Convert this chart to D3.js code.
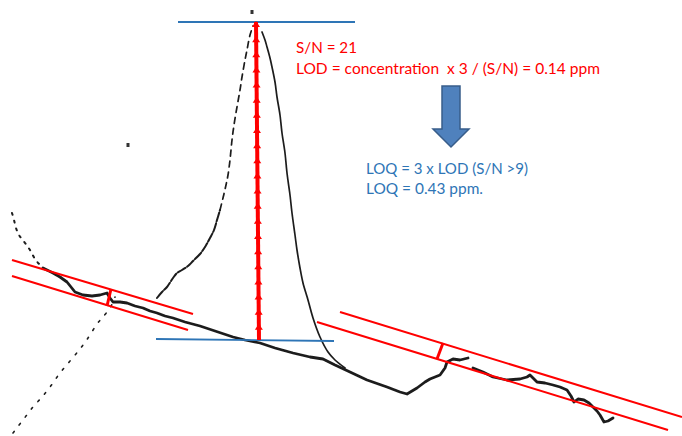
<!DOCTYPE html>
<html>
<head>
<meta charset="utf-8">
<script src="https://cdn.jsdelivr.net/npm/d3@7"></script>
<style>
  body { margin: 0; background: #fff; }
  svg { display: block; }
</style>
</head>
<body>
<script>
"use strict";

// detector trace, [scan, response]  (response counted up from the bottom)
const baselineA = [
  [43,168],[53,163],[60,159],[67,154],[75,144],[83,141],[92,140],[100,141],
  [107,143],[110,138],[113,134],[120,134],[127,133],[135,130],[143,128],
  [150,125],[157,123],[165,120],[173,118],[185,114],[200,110],[215,105],
  [233,99],[245,96],[260,93],[275,88],[293,83],[310,79],[323,77],[335,71],
  [350,64],[367,56],[387,49],[400,44],[407,42],[412,45],[417,48],[425,54],
  [430,57],[440,61],[445,68],[447,74],[453,77],[460,76],[468,78]
];
const baselineB = [
  [473,68],[483,64],[493,59],[507,56],[520,57],[527,59],[530,61],[533,58],
  [537,54],[545,53],[553,51],[560,49],[567,46],[571,40],[574,34],[578,37],
  [584,36],[589,33],[593,29],[597,25],[600,21],[604,14],[608,15],[613,18]
];
const peakRise = [
  [157,138],[162,144],[167,149],[173,158],[177,163],[182,166],[188,170],
  [193,175],[200,182],[205,189],[210,198],[214,206],[217,216],[220,226]
];
const peakRiseUpper = [
  [220,226],[223,238],[226,251],[228,261],[230,276],[232,296],[234,311],
  [237,329],[240,346],[242,359],[245,376],[247,386],[250,401],[253,410]
];
const peakFall = [
  [262,404],[265,396],[267,389],[270,378],[272,369],[275,354],[277,339],
  [280,321],[282,303],[285,283],[287,263],[290,241],[292,223],[295,201],
  [297,186],[300,168],[303,153],[308,136],[313,118],[320,99],[328,84],
  [335,76],[345,68]
];
const leadIn = [
  [12,223],[14,216],[16,208],[19,201],[25,193],[30,186],[35,177],[40,171],[43,168]
];
const crossTrace = [
  [13,3],[23,16],[33,29],[42,39],[50,49],[60,63],[70,75],[80,87],[88,98],
  [97,112],[102,118],[110,128],[115,139]
];
const specks = [[128,291],[252,424]];

// signal height: apex level, baseline level and the arrow between them
const apexLevel = [[178,414],[355,414]];
const baseLevel = [[156,97],[334,95]];
const signalSpan = [[259,96],[256,414]];

// noise bands and their widths
const noiseBands = [
  [[12,176],[193,122]], [[12,160],[188,106]],
  [[340,124],[682,19]], [[317,114],[668,6]]
];
const noiseWidths = [
  [[111,147],[107,130]],
  [[443,93],[437,77]]
];

// block arrow: shaft left/right, head left/right, top, neck, tip
const blockArrow = { shaft: [442,460], head: [433,469], top: 350, neck: 307, tip: 289 };

const lodLines = ["S/N = 21", "LOD = concentration  x 3 / (S/N) = 0.14 ppm"];
const loqLines = ["LOQ = 3 x LOD (S/N >9)", "LOQ = 0.43 ppm."];

const width = 682, height = 436;
const red = "#ff0000", blue = "#2e75b6", ink = "#1c1c1c";

const x = d3.scaleLinear().domain([0, 682]).range([0, width]);
const y = d3.scaleLinear().domain([0, 436]).range([height, 0]);
const line = d3.line().x(d => x(d[0])).y(d => y(d[1]));
const smooth = d3.line().x(d => x(d[0])).y(d => y(d[1])).curve(d3.curveCatmullRom);

const svg = d3.select("body").append("svg")
    .attr("width", width)
    .attr("height", height);

const defs = svg.append("defs");
defs.append("filter").attr("id", "soft")
    .append("feGaussianBlur").attr("stdDeviation", 0.5);

// trace
const trace = svg.append("g").attr("filter", "url(#soft)")
    .attr("fill", "none").attr("stroke", ink)
    .attr("stroke-linecap", "round").attr("stroke-linejoin", "round");

trace.append("path").datum(leadIn).attr("d", smooth)
    .attr("stroke-width", 2).attr("stroke-dasharray", "2,6");
trace.append("path").datum(crossTrace).attr("d", smooth)
    .attr("stroke-width", 1.6).attr("stroke-dasharray", "2,8");
trace.append("path").datum(baselineA).attr("d", line).attr("stroke-width", 2.8);
trace.append("path").datum(baselineB).attr("d", line).attr("stroke-width", 2.8);
trace.append("path").datum(peakRise).attr("d", smooth)
    .attr("stroke-width", 2).attr("stroke-dasharray", "9,2");
trace.append("path").datum(peakRiseUpper).attr("d", smooth)
    .attr("stroke-width", 1.7).attr("stroke-dasharray", "6,5");
trace.append("path").datum(peakFall).attr("d", smooth).attr("stroke-width", 1.7);

svg.selectAll("rect.speck").data(specks).join("rect")
    .attr("class", "speck")
    .attr("x", d => x(d[0]) - 1.5).attr("y", d => y(d[1]) - 2)
    .attr("width", 3).attr("height", 4)
    .attr("fill", "#333");

// signal levels
svg.selectAll("path.level").data([apexLevel, baseLevel]).join("path")
    .attr("class", "level")
    .attr("d", line)
    .attr("fill", "none").attr("stroke", blue).attr("stroke-width", 1.8);

// stacked red arrows for the signal height
const [b0, t0] = signalSpan;
const nArrows = Math.round((y(b0[1]) - y(t0[1])) / 15);
const arrowPts = d3.range(nArrows + 1).map(k => {
  const t = k / nArrows;
  return [b0[0] + (t0[0] - b0[0]) * t, b0[1] + (t0[1] - b0[1]) * t];
});
svg.append("path").datum(signalSpan).attr("d", line)
    .attr("stroke", red).attr("stroke-width", 4);
svg.selectAll("path.head").data(arrowPts.slice(1)).join("path")
    .attr("class", "head")
    .attr("d", d => {
      const px = x(d[0]), py = y(d[1]);
      return `M${px},${py - 1}L${px - 4},${py + 5}L${px + 4},${py + 5}Z`;
    })
    .attr("fill", red);

// noise bands
svg.selectAll("path.band").data(noiseBands).join("path")
    .attr("class", "band")
    .attr("d", line)
    .attr("fill", "none").attr("stroke", red).attr("stroke-width", 2);
svg.selectAll("path.noise").data(noiseWidths).join("path")
    .attr("class", "noise")
    .attr("d", line)
    .attr("fill", "none").attr("stroke", red).attr("stroke-width", 3);

// block arrow
const a = blockArrow;
svg.append("path")
    .attr("d", [
      [a.shaft[0], a.top], [a.shaft[1], a.top], [a.shaft[1], a.neck],
      [a.head[1], a.neck], [(a.head[0] + a.head[1]) / 2, a.tip],
      [a.head[0], a.neck], [a.shaft[0], a.neck]
    ].map((d, i) => (i ? "L" : "M") + x(d[0]) + "," + y(d[1])).join("") + "Z")
    .attr("fill", "#4f81bd").attr("stroke", "#385d8a").attr("stroke-width", 1.5);

// annotations
const notes = [
  { lines: lodLines, color: red, x: 296, y: [53, 74], w: [61, 304] },
  { lines: loqLines, color: blue, x: 366, y: [174, 194], w: [162, 117] }
];
notes.forEach(n => {
  n.lines.forEach((txt, i) => {
    svg.append("text")
        .attr("x", n.x).attr("y", n.y[i])
        .attr("fill", n.color)
        .attr("font-family", "Lato, 'Open Sans', sans-serif")
        .attr("font-size", 16)
        .attr("textLength", n.w[i])
        .attr("lengthAdjust", "spacingAndGlyphs")
        .style("white-space", "pre")
        .text(txt);
  });
});
</script>
</body>
</html>
